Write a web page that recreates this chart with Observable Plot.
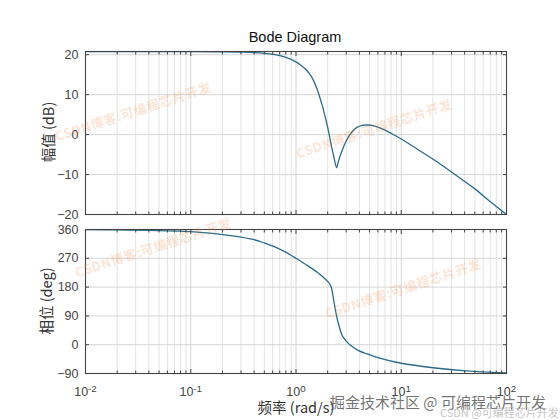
<!DOCTYPE html>
<html>
<head>
<meta charset="utf-8">
<script src="https://cdn.jsdelivr.net/npm/d3@7"></script>
<script src="https://cdn.jsdelivr.net/npm/@observablehq/plot@0.6"></script>
<style>
  html, body { margin: 0; padding: 0; background: #fff; }
  #wrap { position: relative; width: 560px; height: 420px; background: #fff; overflow: hidden;
          font-family: "Liberation Sans", Arial, "Noto Sans CJK SC", sans-serif; }
  .abs { position: absolute; white-space: nowrap; }
  .ylab { font-size: 14.5px; color: #333; transform: translate(-50%, -50%) rotate(-90deg); }
  .wm { font-size: 13px; color: rgba(240, 140, 70, 0.24); font-family: "Noto Sans CJK SC", sans-serif; font-weight: bold; letter-spacing: 0.5px; transform: translate(-50%, -50%) rotate(-18deg); }
</style>
</head>
<body>
<div id="wrap">
  <div id="top" class="abs" style="left:0;top:0"></div>
  <div id="bot" class="abs" style="left:0;top:222px"></div>
  <div class="abs" style="left:295px;top:37px;transform:translate(-50%,-50%);font-size:14.5px;color:#111">Bode Diagram</div>
  <div class="abs ylab" style="left:47px;top:132px;font-family:'Noto Sans CJK SC','Liberation Sans',sans-serif">幅值 (dB)</div>
  <div class="abs ylab" style="left:45px;top:301px;font-family:'Noto Sans CJK SC','Liberation Sans',sans-serif">相位 (deg)</div>
  <div class="abs" style="left:296px;top:406px;transform:translate(-50%,-50%);font-size:14.5px;color:#333;font-family:'Noto Sans CJK SC','Liberation Sans',sans-serif">频率 (rad/s)</div>
  <div class="abs wm" style="left:133px;top:111px">CSDN博客:可编程芯片开发</div>
  <div class="abs wm" style="left:374px;top:128px">CSDN博客:可编程芯片开发</div>
  <div class="abs wm" style="left:153px;top:247px">CSDN博客:可编程芯片开发</div>
  <div class="abs wm" style="left:403px;top:288px">CSDN博客:可编程芯片开发</div>
  <div class="abs" style="left:330px;top:391px;font-size:15px;color:rgba(90,90,90,0.85);font-family:'Noto Sans CJK SC',sans-serif">掘金技术社区 @ 可编程芯片开发</div>
  <div class="abs" style="left:440px;top:404px;font-size:11px;color:rgba(170,170,170,0.7);font-family:'Noto Sans CJK SC',sans-serif">CSDN @可编程芯片开发</div>
</div>
<script>
// ---- data ----
const magFreq = [0.01, 0.1, 0.2, 0.32, 0.5, 0.63, 0.79, 1.0, 1.12, 1.26, 1.41, 1.58, 1.78, 2.0, 2.14, 2.29, 2.43, 2.51, 2.63, 2.75, 2.95, 3.16, 3.47, 3.8, 4.27, 4.74, 5.62, 6.76, 8.32, 10, 15.8, 23.6, 31.6, 49, 70.8, 100];
const magDb   = [20.8, 20.78, 20.72, 20.62, 20.35, 20.0, 19.4, 18.2, 17.3, 16.1, 14.4, 11.5, 7.2, 1.8, -2.0, -5.6, -8.3, -7.0, -5.3, -3.9, -2.0, -0.5, 0.9, 1.8, 2.3, 2.4, 2.1, 1.3, 0.1, -1.1, -4.4, -7.4, -9.8, -13.4, -16.9, -20];
const phaseFreq = [0.01, 0.02, 0.04, 0.1, 0.16, 0.25, 0.4, 0.5, 0.63, 0.79, 1.0, 1.26, 1.58, 1.78, 2.0, 2.14, 2.21, 2.29, 2.37, 2.45, 2.55, 2.65, 2.75, 2.84, 3.06, 3.3, 3.81, 4.74, 6.35, 10, 20, 41, 100];
const phaseDeg  = [359.5, 358.6, 357, 353.5, 348, 340, 328, 318, 306, 290, 270, 249, 227, 213, 198, 184, 166, 135, 108, 84, 62, 42, 29, 21, 8, -2, -16, -29, -43, -58, -72, -82, -88];
const xTicks = [0.01, 0.1, 1, 10, 100];
const xTickLabels = ["10^-2", "10^-1", "10^0", "10^1", "10^2"];
const magTicks = [-20, -10, 0, 10, 20];
const phaseTicks = [-90, 0, 90, 180, 270, 360];

const mag = magFreq.map((w, i) => ({w, v: magDb[i]}));
const phase = phaseFreq.map((w, i) => ({w, v: phaseDeg[i]}));
const minorX = [];
for (const p of [0.01, 0.1, 1, 10]) for (let k = 2; k <= 9; k++) minorX.push(+(p * k).toPrecision(3));

const lineColor = "#2a6a8c";
const style = {fontFamily: "'Liberation Sans', Arial, sans-serif", fontSize: "12.5px", color: "#444", background: "transparent", overflow: "visible"};
const xOpts = {type: "log", domain: [0.01, 100]};

function panel(data, yDomain, yTicks, height, mt, mb, showX) {
  return Plot.plot({
    width: 560, height, marginLeft: 85, marginRight: 54, marginTop: mt, marginBottom: mb,
    style,
    x: xOpts,
    y: {domain: yDomain},
    marks: [
      Plot.ruleX(minorX, {stroke: "#e4e4e4", strokeWidth: 1}),
      Plot.ruleX(xTicks, {stroke: "#d6d6d6", strokeWidth: 1}),
      Plot.ruleY(yTicks, {stroke: "#d6d6d6", strokeWidth: 1}),
      Plot.line(data, {x: "w", y: "v", stroke: lineColor, strokeWidth: 1.3, curve: "catmull-rom", clip: true}),
      Plot.frame({stroke: "#444", strokeWidth: 1.1}),
      Plot.axisY(yTicks, {anchor: "left", tickSize: -4, tickPadding: 11, label: null}),
      Plot.axisY(yTicks, {anchor: "right", tickSize: -4, tickFormat: () => "", label: null}),
      Plot.axisX(xTicks, {anchor: "bottom", tickSize: -4, tickPadding: 18, label: null,
        tickFormat: showX ? (d => xTickLabels[xTicks.indexOf(d)]) : (() => "")}),
      Plot.axisX(xTicks, {anchor: "top", tickSize: -4, tickFormat: () => "", label: null}),
      Plot.axisX(minorX, {anchor: "bottom", tickSize: -2.5, tickFormat: () => "", label: null}),
      Plot.axisX(minorX, {anchor: "top", tickSize: -2.5, tickFormat: () => "", label: null})
    ]
  });
}

function superscripts(svg) {
  svg.querySelectorAll("text").forEach(t => {
    const m = /^10\^(.+)$/.exec(t.textContent);
    if (!m) return;
    t.textContent = "10";
    const ts = document.createElementNS("http://www.w3.org/2000/svg", "tspan");
    ts.setAttribute("dy", "-0.45em");
    ts.setAttribute("font-size", "0.78em");
    ts.textContent = m[1];
    t.appendChild(ts);
  });
  return svg;
}

document.getElementById("top").append(panel(mag, [-20, 20.8], magTicks, 222, 51, 8, false));
document.getElementById("bot").append(superscripts(panel(phase, [-90, 360], phaseTicks, 198, 7, 47, true)));
</script>
</body>
</html>
